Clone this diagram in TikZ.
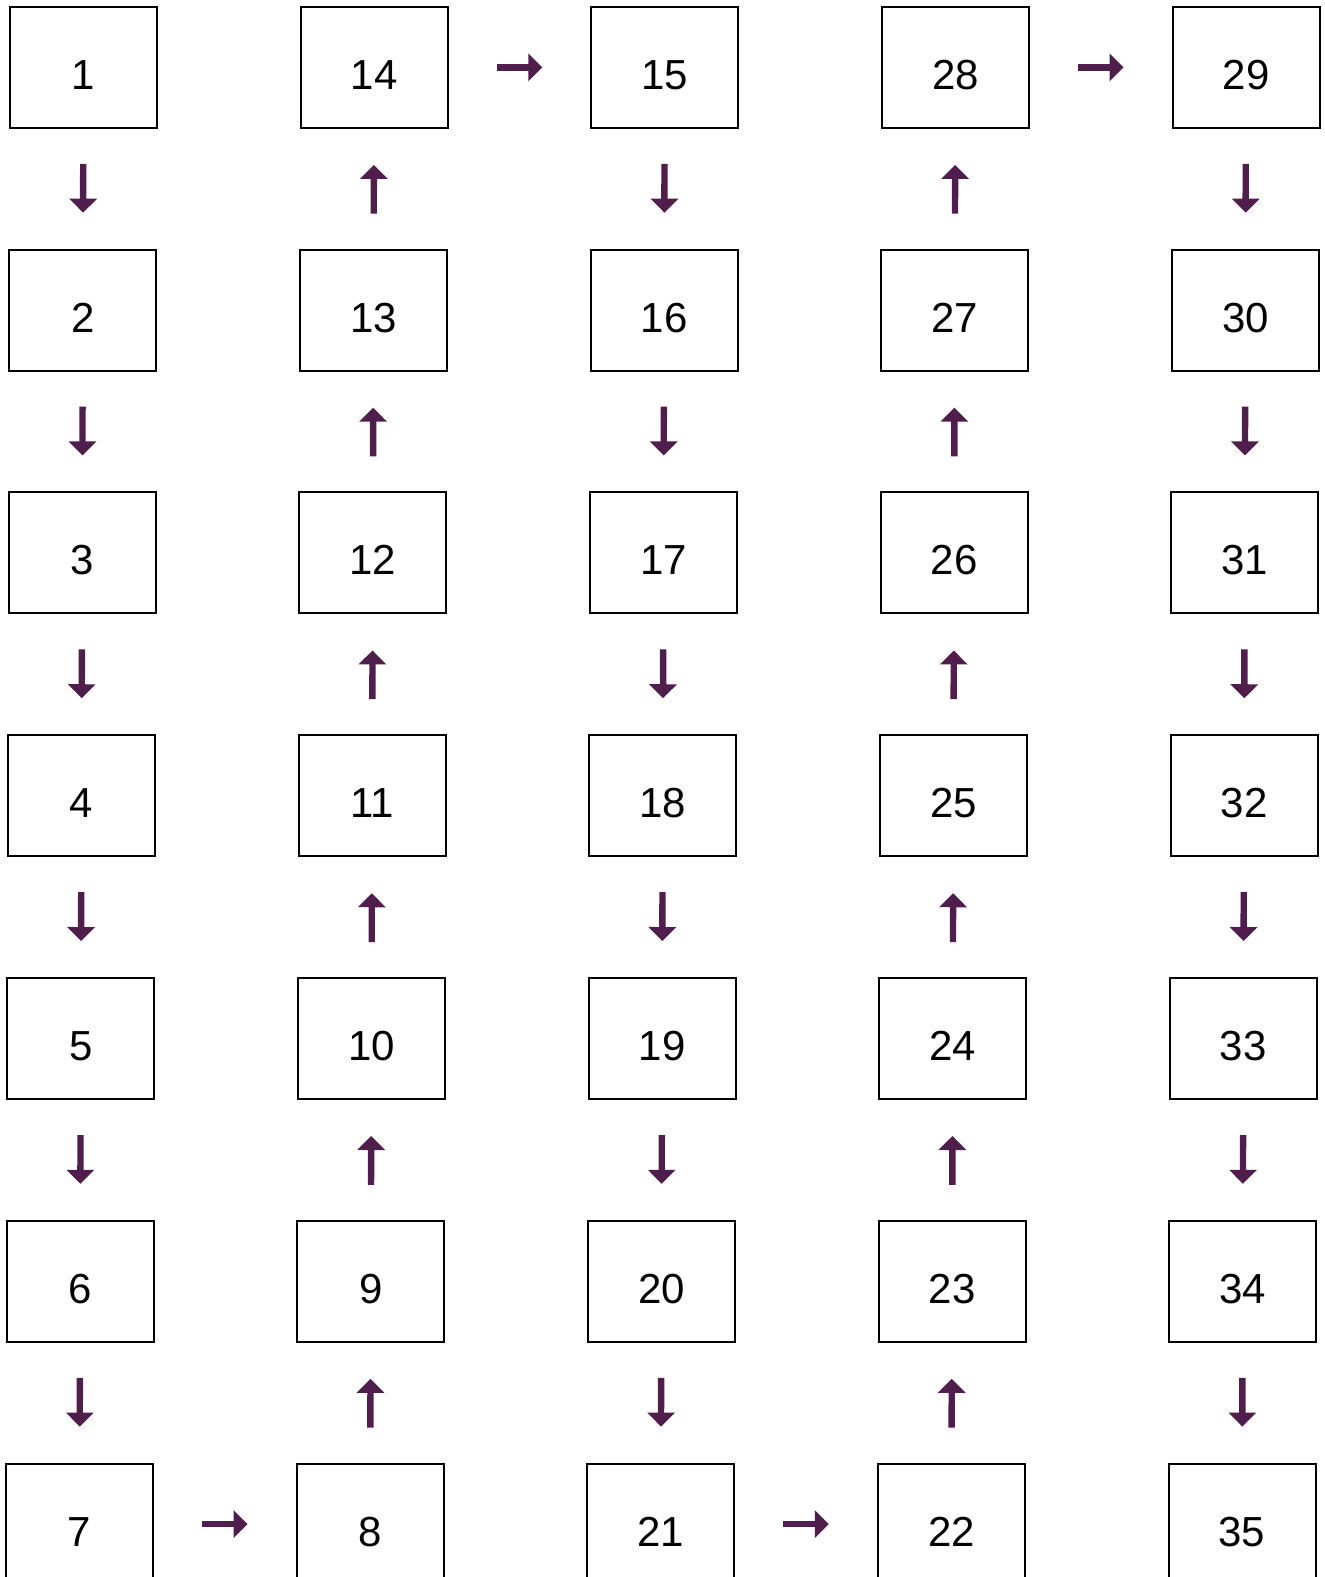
\documentclass[tikz,border=0pt]{standalone}
\usepackage{fontspec}
\setmainfont{Liberation Sans}
\usetikzlibrary{arrows.meta}
\definecolor{arrowpurple}{RGB}{80,30,76}
\tikzset{
  cell/.style={draw=black, line width=1pt, minimum width=73.5pt, minimum height=60.5pt,
    inner sep=0pt, font=\fontsize{21}{21}\selectfont, text height=22pt, text depth=0pt},
  arr/.style={draw=arrowpurple, line width=3.2pt, -{Triangle[width=13.5pt,length=7pt]}},
  vgap/.style={shorten <=17.5pt, shorten >=18pt},
  hgap/.style={shorten <=24pt, shorten >=24pt}
}
\begin{document}
\begin{tikzpicture}[x=0.5pt,y=-0.5pt]
\useasboundingbox (0,0) rectangle (1324,1577);
\fill[white] (0,0) rectangle (1324,1577);
\clip (0,0) rectangle (1324,1577);
\foreach \c in {0,...,4}{
  \foreach \r in {0,...,6}{
    \pgfmathtruncatemacro\num{mod(\c,2)==1 ? 7*\c+7-\r : 7*\c+1+\r}
    \node[cell] (n\num) at ({(83+288.9*\c-0.67*\r)*1.006},{(67+241.33*\r)*1.006}) {\num};
  }
}
\foreach \i in {1,...,6,8,9,...,13,15,16,...,20,22,23,...,27,29,30,...,34}{
  \pgfmathtruncatemacro\j{\i+1}
  \draw[arr,vgap] (n\i) -- (n\j);
}
\foreach \i in {7,14,21,28}{
  \pgfmathtruncatemacro\j{\i+1}
  \draw[arr,hgap] (n\i) -- (n\j);
}
\end{tikzpicture}
\end{document}
